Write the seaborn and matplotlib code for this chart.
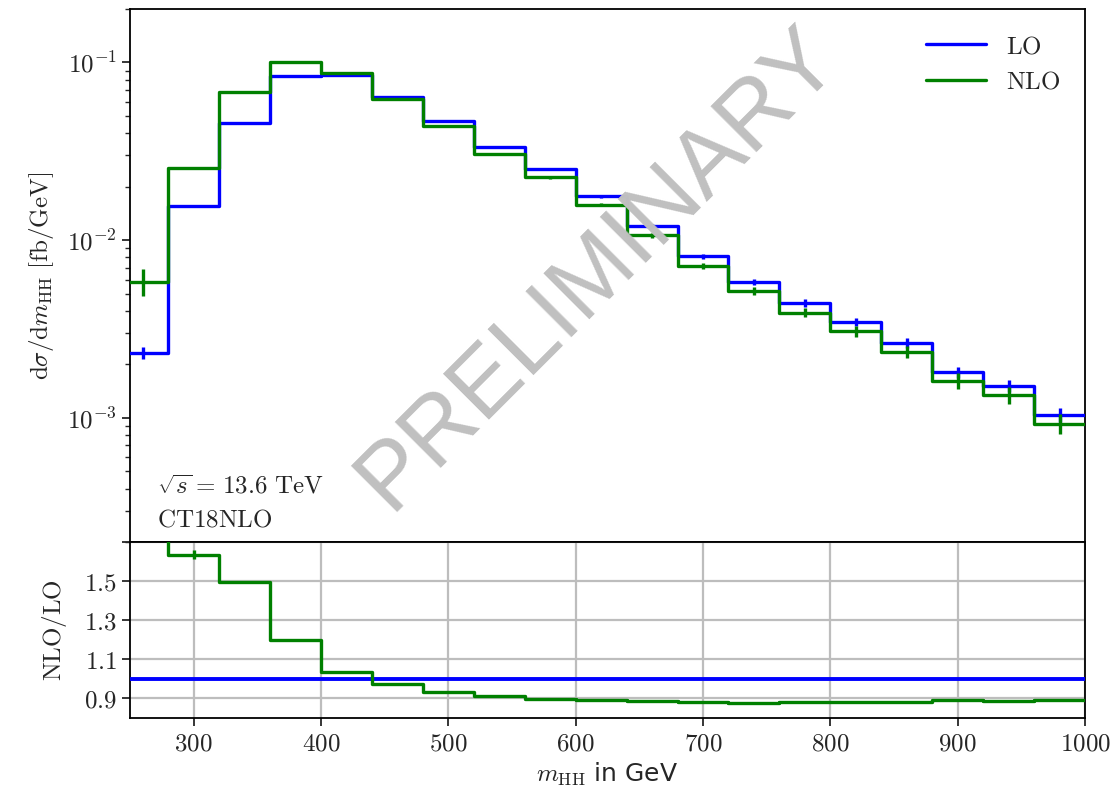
import numpy as np
import pandas as pd
import matplotlib
matplotlib.use("Agg")
import matplotlib.pyplot as plt
import seaborn as sns

# ---------------- data ----------------
bin_edges = [240, 280, 320, 360, 400, 440, 480, 520, 560, 600, 640,
             680, 720, 760, 800, 840, 880, 920, 960, 1000]
lo_values = [2.32e-3, 0.0155, 0.0457, 0.0840, 0.0850, 0.0640, 0.0470,
             0.0334, 0.0252, 0.0177, 0.0120, 0.0081, 0.0058, 0.00442,
             0.00347, 0.00264, 0.00181, 0.00151, 0.00104]
nlo_values = [5.85e-3, 0.0254, 0.0678, 0.1000, 0.0875, 0.0622, 0.0440,
              0.0305, 0.0226, 0.0158, 0.01064, 0.00718, 0.00516, 0.00391,
              0.00307, 0.00236, 0.00162, 0.00134, 0.000927]
lo_relerr = [0.08, 0.01, 0.005, 0.005, 0.005, 0.005, 0.01, 0.01, 0.015,
             0.02, 0.025, 0.03, 0.04, 0.05, 0.05, 0.06, 0.07, 0.08, 0.09]
nlo_relerr = [0.17, 0.01, 0.005, 0.005, 0.005, 0.01, 0.01, 0.015, 0.02,
              0.02, 0.03, 0.04, 0.05, 0.06, 0.07, 0.08, 0.10, 0.11, 0.13]
ratio_values = [2.52, 1.636, 1.495, 1.197, 1.036, 0.973, 0.931, 0.910,
                0.895, 0.890, 0.887, 0.881, 0.878, 0.880, 0.881, 0.883,
                0.893, 0.886, 0.891]
ratio_err = [0.03, 0.025, 0.004, 0.003, 0.003, 0.003, 0.003, 0.003, 0.003,
             0.003, 0.003, 0.003, 0.003, 0.003, 0.003, 0.003, 0.004, 0.004, 0.005]
lo_ratio_values = [1.0] * 19
series_names = ["LO", "NLO"]
x_ticks = [300, 400, 500, 600, 700, 800, 900, 1000]
ratio_ticks = [0.9, 1.1, 1.3, 1.5, 1.7]
log_ticks = [1e-3, 1e-2, 1e-1]

# ---------------- style ----------------
sns.set_theme(style="ticks")
plt.rcParams["font.family"] = ["DejaVu Sans"]
plt.rcParams["mathtext.fontset"] = "cm"
plt.rcParams["axes.linewidth"] = 1.3
plt.rcParams["xtick.major.width"] = 1.3
plt.rcParams["ytick.major.width"] = 1.3
plt.rcParams["ytick.minor.width"] = 1.0
plt.rcParams["xtick.major.size"] = 6
plt.rcParams["ytick.major.size"] = 6
plt.rcParams["ytick.minor.size"] = 3.5
plt.rcParams["axes.edgecolor"] = "black"

BLUE = "#0000ff"
GREEN = "#008000"
LW = 2.4
FS = 18

W, H = 1115, 797
fig = plt.figure(figsize=(W / 100, H / 100), dpi=100)
left, right = 130, 1085
ax = fig.add_axes([left / W, 1 - 542 / H, (right - left) / W, (542 - 9) / H])
axr = fig.add_axes([left / W, 1 - 718 / H, (right - left) / W, (718 - 542) / H], sharex=ax)

edges = np.array(bin_edges, dtype=float)
centers = 0.5 * (edges[:-1] + edges[1:])

def step_df(vals):
    return pd.DataFrame({"x": edges, "y": list(vals) + [vals[-1]]})

# ---------------- main panel ----------------
d_lo = step_df(lo_values)
d_nlo = step_df(nlo_values)
sns.lineplot(data=d_lo, x="x", y="y", ax=ax, color=BLUE, lw=LW,
             drawstyle="steps-post", estimator=None, sort=False,
             label=series_names[0], zorder=3)
sns.lineplot(data=d_nlo, x="x", y="y", ax=ax, color=GREEN, lw=LW,
             drawstyle="steps-post", estimator=None, sort=False,
             label=series_names[1], zorder=4)
lo_arr = np.array(lo_values)
nlo_arr = np.array(nlo_values)
ax.errorbar(centers, lo_arr, yerr=lo_arr * np.array(lo_relerr), fmt="none",
            ecolor=BLUE, elinewidth=LW, capsize=0, zorder=3)
ax.errorbar(centers, nlo_arr, yerr=nlo_arr * np.array(nlo_relerr), fmt="none",
            ecolor=GREEN, elinewidth=LW, capsize=0, zorder=4)

ax.set_yscale("log")
ax.set_ylim(2.0e-4, 0.2)
ax.set_xlim(250, 1000)
ax.set_yticks(log_ticks)
ax.set_yticklabels([r"$10^{-3}$", r"$10^{-2}$", r"$10^{-1}$"], fontsize=FS)
ax.tick_params(axis="x", labelbottom=False)
ax.set_xlabel("")
ax.set_ylabel(r"$\mathrm{d}\sigma/\mathrm{d}m_{\mathrm{HH}}\ [\mathrm{fb}/\mathrm{GeV}]$",
              fontsize=FS)
ax.yaxis.set_label_coords(-0.077, 0.5)

leg = ax.legend(loc="upper right", frameon=False, fontsize=FS,
                handlelength=2.4, borderaxespad=0.6, labelspacing=0.45)
for t in leg.get_texts():
    t.set_text(r"$\mathrm{" + t.get_text() + "}$")

ax.text(0.028, 0.105, r"$\sqrt{s} =\, 13.6\ \mathrm{TeV}$", transform=ax.transAxes,
        fontsize=FS, ha="left", va="center")
ax.text(0.028, 0.042, r"$\mathrm{CT18NLO}$", transform=ax.transAxes,
        fontsize=FS, ha="left", va="center")

# watermark
fig.text(598 / W, 1 - 268 / H, "PRELIMINARY", rotation=45, fontsize=68,
         color="#c0c0c0", ha="center", va="center", rotation_mode="anchor",
         family="Liberation Sans", zorder=0.5)

# ---------------- ratio panel ----------------
sns.lineplot(data=step_df(lo_ratio_values), x="x", y="y", ax=axr, color=BLUE,
             lw=LW + 0.4, drawstyle="steps-post", estimator=None, sort=False,
             legend=False, zorder=3)
sns.lineplot(data=step_df(ratio_values), x="x", y="y", ax=axr, color=GREEN,
             lw=LW, drawstyle="steps-post", estimator=None, sort=False,
             legend=False, zorder=4)
axr.errorbar(centers, ratio_values, yerr=ratio_err, fmt="none", ecolor=GREEN,
             elinewidth=LW, capsize=0, zorder=4)
axr.set_ylim(0.8, 1.7)
axr.set_xlim(250, 1000)
axr.set_yticks(ratio_ticks)
axr.set_yticklabels([r"$0.9$", r"$1.1$", r"$1.3$", r"$1.5$", ""], fontsize=FS)
axr.set_xticks(x_ticks)
axr.set_xticklabels([r"$%d$" % v for v in x_ticks], fontsize=FS)
axr.grid(True, color="#bdbdbd", lw=1.6)
axr.set_axisbelow(True)
axr.set_ylabel(r"$\mathrm{NLO}/\mathrm{LO}$", fontsize=FS)
axr.yaxis.set_label_coords(-0.064, 0.5)
axr.set_xlabel(r"$m_{\mathrm{HH}}$ in GeV", fontsize=FS, labelpad=4)

fig.savefig("out.png", dpi=100)
